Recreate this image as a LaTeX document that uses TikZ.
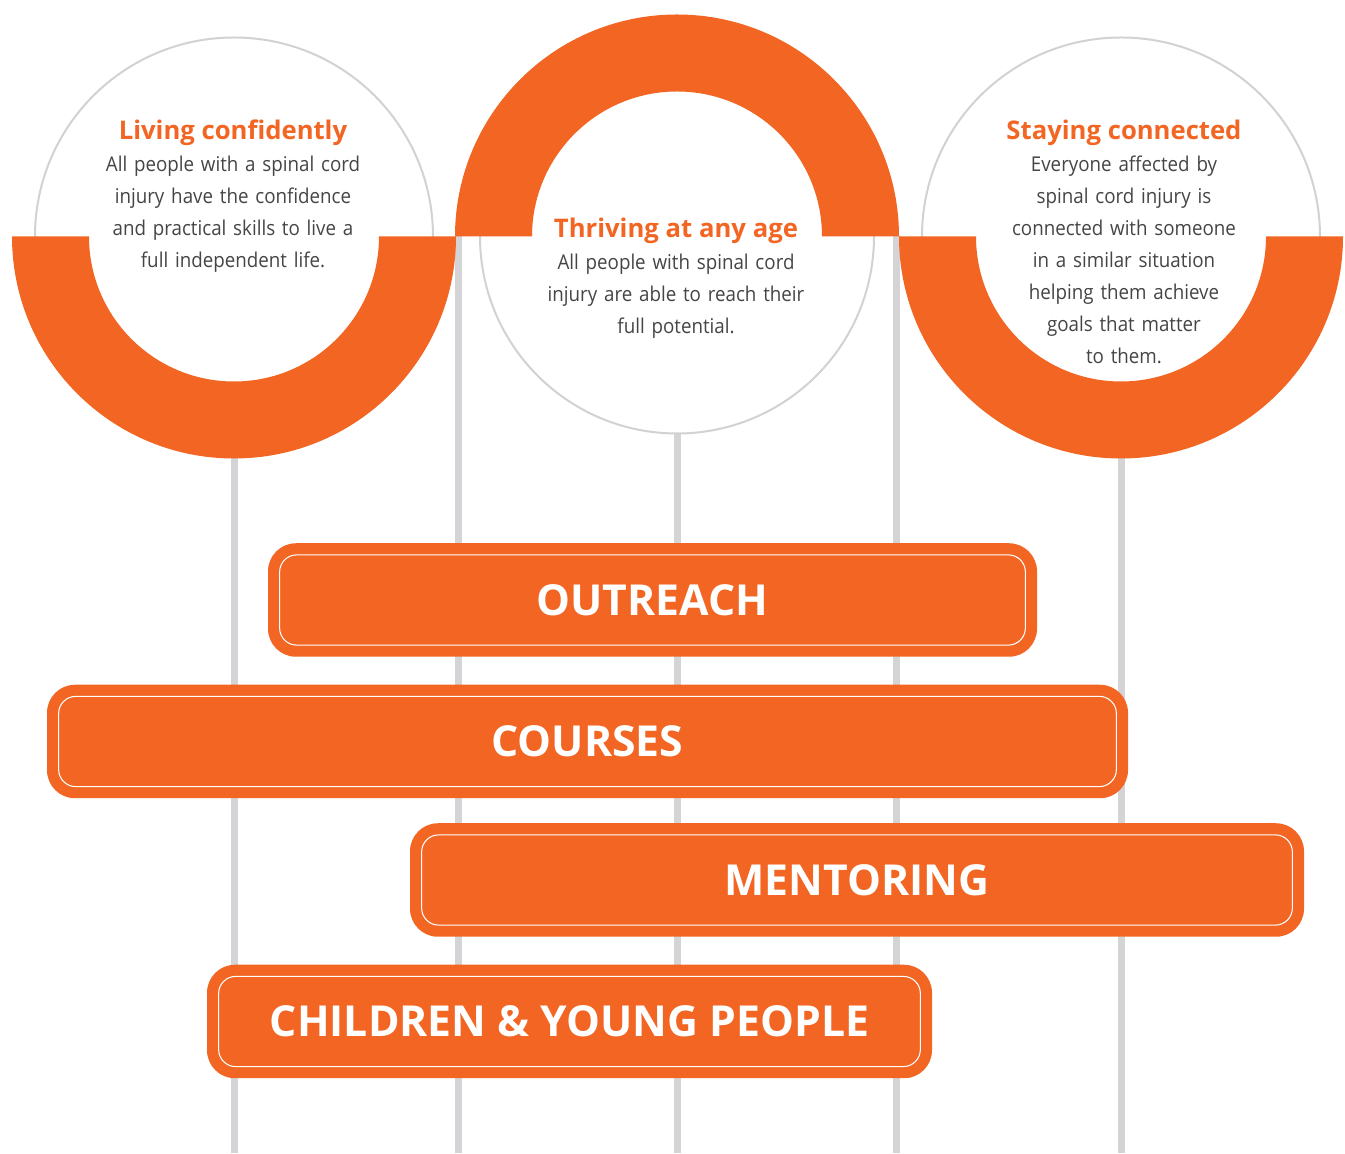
\documentclass[tikz,border=0pt]{standalone}
\usepackage{fontspec}
\setmainfont{Open Sans}
\newfontfamily\narrowfont{Open Sans}[FakeStretch=0.92]
\usepackage{tikz}

\tikzset{
    bar/.style={fill=brand, rounded corners=0.56cm, inner sep=0pt, text=white,
        font=\fontsize{24.3}{30}\selectfont\bfseries, minimum height=2.27cm},
    blurb/.style={anchor=base, align=center, text width=7cm, text=bodytext,
        font=\narrowfont\fontsize{11.6}{18.2}\selectfont},
}
\newcommand{\headline}[1]{{\rmfamily\color{brand}\fontsize{14.6}{18.2}\selectfont\bfseries #1}}

\begin{document}
\begin{tikzpicture}
    \definecolor{brand}{HTML}{F26522}
    \definecolor{stem}{HTML}{D4D4D6}
    \definecolor{rim}{HTML}{D2D2D2}
    \definecolor{bodytext}{HTML}{454545}

    \useasboundingbox (0,0) rectangle (26.9,23.06);

    % circle centres, stem tops and stem feet
    \coordinate (c1) at (4.68,18.33);
    \coordinate (c2) at (13.54,18.33);
    \coordinate (c3) at (22.42,18.33);
    \coordinate (s1) at (9.16,18.33);
    \coordinate (s2) at (17.92,18.33);
    \coordinate (f1) at (4.68,0);
    \coordinate (f2) at (9.16,0);
    \coordinate (f3) at (13.54,0);
    \coordinate (f4) at (17.92,0);
    \coordinate (f5) at (22.42,0);

    % grey stems
    \draw[stem, line width=0.14cm] (c1) -- (f1);
    \draw[stem, line width=0.14cm] (s1) -- (f2);
    \draw[stem, line width=0.14cm] (c2) -- (f3);
    \draw[stem, line width=0.14cm] (s2) -- (f4);
    \draw[stem, line width=0.14cm] (c3) -- (f5);

    % thin outline circles
    \draw[rim, fill=white, line width=0.04cm] (c1) circle (3.98);
    \draw[rim, fill=white, line width=0.04cm] (c2) circle (3.94);
    \draw[rim, fill=white, line width=0.04cm] (c3) circle (3.98);

    % half rings
    \begin{scope}[shift={(c1)}]
        \fill[brand] (-4.44,0) arc[start angle=180, end angle=360, radius=4.44]
            -- (2.9,0) arc[start angle=0, end angle=-180, radius=2.9] -- cycle;
    \end{scope}
    \begin{scope}[shift={(c2)}]
        \fill[brand] (-4.44,0) arc[start angle=180, end angle=0, radius=4.44]
            -- (2.9,0) arc[start angle=0, end angle=180, radius=2.9] -- cycle;
    \end{scope}
    \begin{scope}[shift={(c3)}]
        \fill[brand] (-4.44,0) arc[start angle=180, end angle=360, radius=4.44]
            -- (2.9,0) arc[start angle=0, end angle=-180, radius=2.9] -- cycle;
    \end{scope}

    % circle texts
    \node[blurb] (living) at (4.66,20.26) {\headline{Living confidently}\\
        All people with a spinal cord\\ injury have the confidence\\
        and practical skills to live a\\ full independent life.};
    \node[blurb] (thriving) at (13.52,18.3) {\headline{Thriving at any age}\\
        All people with spinal cord\\ injury are able to reach their\\
        full potential.};
    \node[blurb] (staying) at (22.48,20.26) {\headline{Staying connected}\\
        Everyone affected by\\ spinal cord injury is\\ connected with someone\\
        in a similar situation\\ helping them achieve\\ goals that matter\\ to them.};

    % programme bars
    \node[bar, minimum width=15.38cm] (outreach) at (13.05,11.06) {OUTREACH};
    \node[bar, minimum width=21.62cm] (courses) at (11.75,8.23) {COURSES};
    \node[bar, minimum width=17.88cm] (mentoring) at (17.14,5.46) {MENTORING};
    \node[bar, minimum width=14.50cm] (children) at (11.39,2.63) {CHILDREN \& YOUNG PEOPLE};

    % inner white frames
    \draw[white, line width=0.6pt, rounded corners=0.34cm] ([shift={(0.24,0.24)}]outreach.south west) rectangle ([shift={(-0.24,-0.24)}]outreach.north east);
    \draw[white, line width=0.6pt, rounded corners=0.34cm] ([shift={(0.24,0.24)}]courses.south west) rectangle ([shift={(-0.24,-0.24)}]courses.north east);
    \draw[white, line width=0.6pt, rounded corners=0.34cm] ([shift={(0.24,0.24)}]mentoring.south west) rectangle ([shift={(-0.24,-0.24)}]mentoring.north east);
    \draw[white, line width=0.6pt, rounded corners=0.34cm] ([shift={(0.24,0.24)}]children.south west) rectangle ([shift={(-0.24,-0.24)}]children.north east);
\end{tikzpicture}
\end{document}
